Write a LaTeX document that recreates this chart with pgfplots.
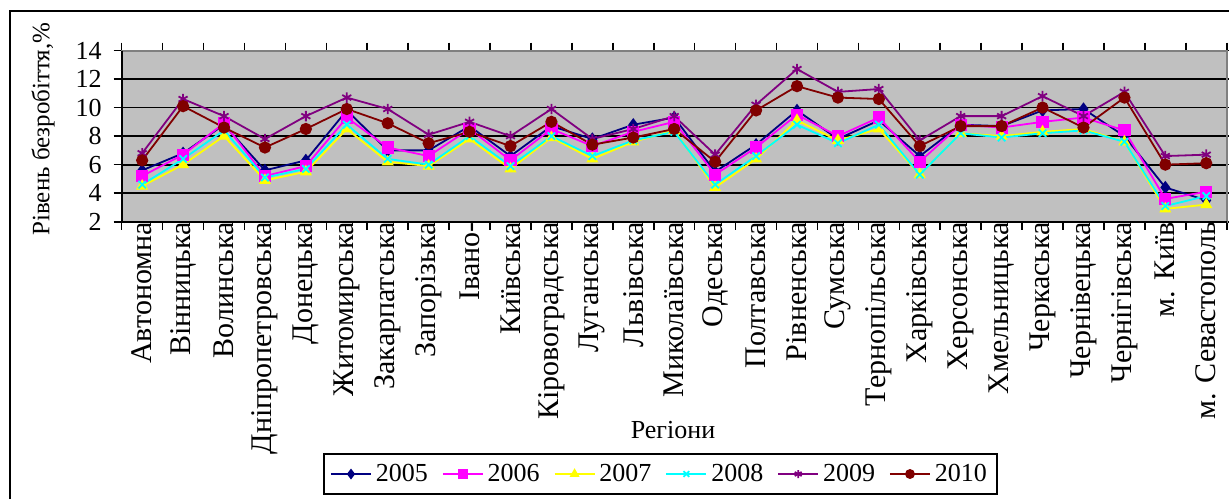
\documentclass[border=0pt]{standalone}
\usepackage{fontspec}
\setmainfont{Liberation Serif}
\usepackage{pgfplots}
\usepackage{pgfplotstable}
\pgfplotsset{compat=1.18}

\definecolor{plotbg}{RGB}{192,192,192}
\definecolor{framegray}{RGB}{128,128,128}
\definecolor{c05}{RGB}{0,0,128}
\definecolor{c06}{RGB}{255,0,255}
\definecolor{c07}{RGB}{255,255,0}
\definecolor{c08}{RGB}{0,255,255}
\definecolor{c09}{RGB}{128,0,128}
\definecolor{c10}{RGB}{128,0,0}

% unemployment rate by region, %
\pgfplotstableread{
x  y05 y06 y07 y08 y09  y10
0  5.6 5.2 4.5 4.6 6.8  6.3
1  6.8 6.7 6.0 6.4 10.6 10.1
2  8.8 8.9 8.0 8.4 9.4  8.6
3  5.6 5.2 4.9 5.1 7.8  7.2
4  6.3 5.9 5.5 5.7 9.4  8.5
5  9.8 9.3 8.5 8.8 10.7 9.9
6  7.0 7.2 6.2 6.4 9.9  8.9
7  7.0 6.6 5.9 6.0 8.1  7.5
8  8.7 8.5 7.8 8.0 9.0  8.3
9  6.6 6.3 5.7 5.9 8.0  7.3
10 8.7 8.5 7.9 8.0 9.9  9.0
11 7.8 7.3 6.4 6.6 7.8  7.4
12 8.8 8.3 7.6 7.7 8.5  7.9
13 9.3 9.0 8.4 8.3 9.4  8.5
14 5.5 5.3 4.4 4.6 6.7  6.2
15 7.4 7.2 6.4 6.6 10.2 9.8
16 9.8 9.5 9.1 8.8 12.7 11.5
17 7.8 8.0 7.7 7.5 11.1 10.7
18 9.1 9.3 8.5 8.8 11.3 10.6
19 6.6 6.2 5.3 5.3 7.7  7.3
20 8.8 8.8 8.2 8.2 9.4  8.7
21 8.7 8.6 8.0 7.9 9.4  8.7
22 9.8 9.0 8.3 8.2 10.8 10.0
23 9.9 9.3 8.5 8.4 9.4  8.6
24 8.0 8.4 7.6 7.6 11.1 10.7
25 4.4 3.6 2.9 3.1 6.6  6.0
26 3.5 4.1 3.2 3.8 6.7  6.1
}\unemp

\begin{document}
\begin{tikzpicture}
\useasboundingbox (-60.85pt,-138.65pt) rectangle (553.65pt,110.85pt);
\draw[black, line width=0.9pt] (-55.85pt,-138.65pt) -- (-55.85pt,105.35pt) -- (553.65pt,105.35pt);
\begin{axis}[
    at={(0pt,0pt)}, anchor=south west,
    scale only axis,
    width=552.5pt, height=85.6pt,
    xmin=-0.5, xmax=26.5,
    ymin=2, ymax=14,
    ytick={2,4,...,14},
    yticklabels={2,4,6,8,10,12,14},
    xtick={-0.5,0.5,...,26.5},
    xticklabels={},
    extra x ticks={0,...,26},
    extra x tick labels={Автономна,Вінницька,Волинська,Дніпропетровська,Донецька,Житомирська,Закарпатська,Запорізька,Івано-,Київська,Кіровоградська,Луганська,Львівська,Миколаївська,Одеська,Полтавська,Рівненська,Сумська,Тернопільська,Харківська,Херсонська,Хмельницька,Черкаська,Чернівецька,Чернігівська,м. Київ,м. Севастополь},
    extra x tick style={major tick length=0pt,
        xticklabel style={rotate=90, anchor=east, inner sep=0pt,
            font=\fontsize{15}{17}\selectfont}},
    tick align=outside,
    major tick length=4pt,
    tick style={black, line width=0.8pt},
    ymajorgrids,
    grid style={black, line width=0.9pt},
    axis background/.style={fill=plotbg},
    axis line style={framegray, line width=1pt},
    yticklabel style={anchor=east, inner sep=0pt, xshift=-5.85pt,
        font=\fontsize{13}{15}\selectfont},
    xlabel={Регіони},
    xlabel style={at={(axis description cs:0.4989,-1.2167)}, anchor=center,
        font=\fontsize{13}{15}\selectfont},
    ylabel={Рівень безробіття,\%},
    ylabel style={at={(axis description cs:-0.0712,0.541)}, anchor=center,
        font=\fontsize{12.5}{14}\selectfont},
    legend columns=6,
    legend style={at={(axis description cs:0.4876,-1.4737)}, anchor=center,
        draw=black, line width=0.8pt, inner xsep=3pt, inner ysep=3pt,
        font=\fontsize{13}{15}\selectfont,
        /tikz/every even column/.append style={column sep=5pt}},
    legend image code/.code={
        \draw[mark repeat=2, mark phase=2, mark size=2pt]
        plot coordinates {(0pt,0pt) (10pt,0pt) (20pt,0pt)};},
    every axis plot/.append style={line width=0.9pt, mark size=2.6pt},
    after end axis/.code={
        \draw[framegray, line width=1pt] (rel axis cs:0,1) -- (rel axis cs:1,1) -- (rel axis cs:1,0);
        \draw[black, line width=1pt] (rel axis cs:0,1) -- (rel axis cs:0,0) -- (rel axis cs:1,0);
    },
]
\addplot[c05, mark=diamond*, mark options={fill=c05}] table[x=x, y=y05] {\unemp};
\addlegendentry{2005}
\addplot[c06, mark=square*, mark options={fill=c06}] table[x=x, y=y06] {\unemp};
\addlegendentry{2006}
\addplot[c07, mark=triangle*, mark options={fill=c07}] table[x=x, y=y07] {\unemp};
\addlegendentry{2007}
\addplot[c08, mark=x] table[x=x, y=y08] {\unemp};
\addlegendentry{2008}
\addplot[c09, mark=asterisk] table[x=x, y=y09] {\unemp};
\addlegendentry{2009}
\addplot[c10, mark=*, mark options={fill=c10}] table[x=x, y=y10] {\unemp};
\addlegendentry{2010}
\end{axis}
\end{tikzpicture}
\end{document}
